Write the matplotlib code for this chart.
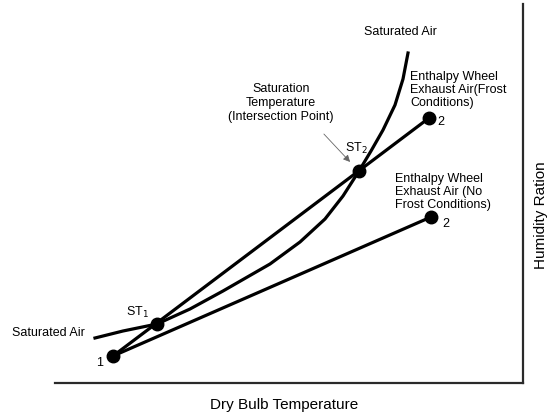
import matplotlib.pyplot as plt

plt.rcParams['font.family'] = ['Liberation Sans', 'DejaVu Sans']

# saturation curve
sat_x = [40, 68, 102, 135, 168, 215, 245, 270, 288, 304, 316, 328, 340, 348, 353]
sat_y = [45, 52, 59, 74, 92, 119, 141, 164, 187, 212, 232, 253, 278, 304, 330]

# state points
p1 = (58, 27)
st1 = (102, 59)
st2 = (304, 212)
frost2 = (374, 265)
nofrost2 = (376, 166)

fig = plt.figure(figsize=(5.54, 4.14), dpi=100)
ax = fig.add_axes([55 / 554, 30 / 414, 468 / 554, 379 / 414])
ax.set_xlim(0, 468)
ax.set_ylim(0, 379)

for s in ['left', 'top']:
    ax.spines[s].set_visible(False)
for s in ['right', 'bottom']:
    ax.spines[s].set_linewidth(1.6)
    ax.spines[s].set_color('#2a2a2a')
ax.set_xticks([])
ax.set_yticks([])

lw = 2.3
ax.plot(sat_x, sat_y, color='black', lw=lw, solid_joinstyle='round')
ax.plot([p1[0], frost2[0]], [p1[1], frost2[1]], color='black', lw=lw)
ax.plot([p1[0], nofrost2[0]], [p1[1], nofrost2[1]], color='black', lw=lw)

for p in [p1, st1, st2, frost2, nofrost2]:
    ax.plot(p[0], p[1], 'o', color='black', ms=9)

fs = 9
ax.text(345, 352, 'Saturated Air', fontsize=fs, ha='center', va='center')
ax.text(-7, 51, 'Saturated Air', fontsize=fs, ha='center', va='center', clip_on=False)
ax.text(45, 21, '1', fontsize=fs, ha='center', va='center')
ax.text(82, 72, 'ST$_1$', fontsize=fs, ha='center', va='center')
ax.text(301, 236, 'ST$_2$', fontsize=fs, ha='center', va='center')
ax.text(226, 281, 'Saturation\nTemperature\n(Intersection Point)', fontsize=fs,
        ha='center', va='center', linespacing=1.2)
ax.annotate('', xy=(297, 219), xytext=(267, 251),
            arrowprops=dict(arrowstyle='-|>', color='#666666', lw=0.6,
                            mutation_scale=10))
ax.text(355, 294, 'Enthalpy Wheel\nExhaust Air(Frost\nConditions)', fontsize=fs,
        ha='left', va='center', linespacing=1.1)
ax.text(386, 262, '2', fontsize=fs, ha='center', va='center')
ax.text(340, 192, 'Enthalpy Wheel\nExhaust Air (No\nFrost Conditions)', fontsize=fs,
        ha='left', va='center', linespacing=1.15)
ax.text(391, 160, '2', fontsize=fs, ha='center', va='center')

fig.text(284 / 554, 1 - 405 / 414, 'Dry Bulb Temperature', fontsize=11,
         ha='center', va='center')
fig.text(541 / 554, 1 - 215 / 414, 'Humidity Ration', fontsize=11,
         ha='center', va='center', rotation=90)

fig.savefig('out.png', dpi=100)
